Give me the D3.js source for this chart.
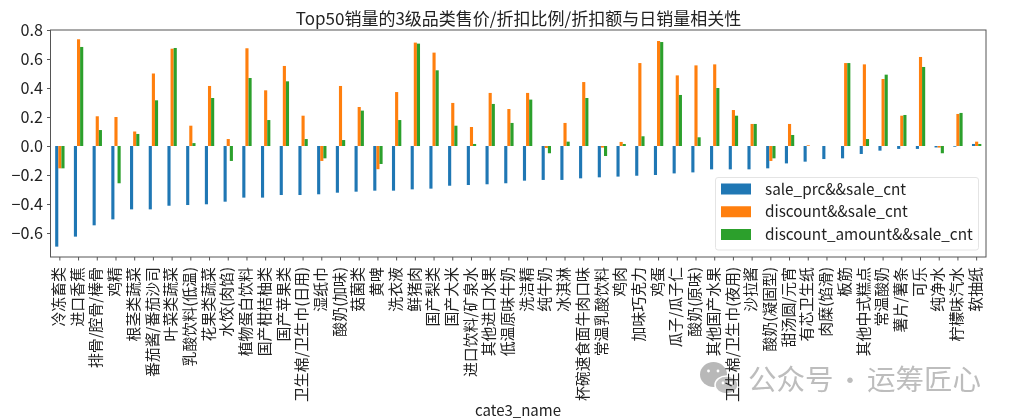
<!DOCTYPE html>
<html>
<head>
<meta charset="utf-8">
<script src="https://cdnjs.cloudflare.com/ajax/libs/d3/7.8.5/d3.min.js"></script>
<style>
html,body{margin:0;padding:0;background:#fff;}
svg{display:block;filter:blur(0.35px);}
text{font-family:"Noto Sans CJK SC","Noto Sans",sans-serif;fill:#222;}
</style>
</head>
<body>
<svg id="chart" width="1013" height="420"></svg>
<script>
const categories = ["冷冻畜类","进口香蕉","排骨/腔骨/棒骨","鸡精","根茎类蔬菜","番茄酱/番茄沙司","叶菜类蔬菜","乳酸饮料(低温)","花果类蔬菜","水饺(肉馅)","植物蛋白饮料","国产柑桔柚类","国产苹果类","卫生棉/卫生巾(日用)","湿纸巾","酸奶(加味)","菇菌类","黄啤","洗衣液","鲜猪肉","国产梨类","国产大米","进口饮料/矿泉水","其他进口水果","低温原味牛奶","洗洁精","纯牛奶","冰淇淋","杯碗速食面牛肉口味","常温乳酸饮料","鸡肉","加味巧克力","鸡蛋","瓜子/瓜子仁","酸奶(原味)","其他国产水果","卫生棉/卫生巾(夜用)","沙拉酱","酸奶(凝固型)","甜汤圆/元宵","有芯卫生纸","肉糜(馅滑)","板筋","其他中式糕点","常温酸奶","薯片/薯条","可乐","纯净水","柠檬味汽水","软抽纸"];
const salePrc = [-0.694,-0.625,-0.547,-0.506,-0.437,-0.437,-0.412,-0.407,-0.402,-0.384,-0.356,-0.356,-0.338,-0.338,-0.333,-0.322,-0.315,-0.308,-0.308,-0.299,-0.294,-0.274,-0.269,-0.264,-0.257,-0.239,-0.234,-0.234,-0.223,-0.216,-0.211,-0.205,-0.2,-0.189,-0.182,-0.161,-0.161,-0.161,-0.154,-0.12,-0.108,-0.09,-0.085,-0.055,-0.032,-0.02,-0.02,-0.01,-0.005,0.014];
const discount = [-0.154,0.736,0.205,0.2,0.1,0.5,0.671,0.14,0.414,0.048,0.674,0.384,0.552,0.209,-0.103,0.414,0.269,-0.16,0.372,0.713,0.644,0.297,0.131,0.366,0.255,0.366,-0.014,0.159,0.441,-0.011,0.028,0.572,0.724,0.487,0.556,0.563,0.248,0.152,-0.103,0.152,0.005,0,0.572,0.563,0.462,0.209,0.614,-0.011,0.221,0.03];
const discountAmount = [-0.154,0.683,0.11,-0.257,0.083,0.315,0.676,0.02,0.331,-0.103,0.469,0.179,0.446,0.048,-0.085,0.041,0.244,-0.124,0.179,0.706,0.522,0.14,0.014,0.29,0.159,0.32,-0.05,0.03,0.331,-0.069,0.014,0.067,0.717,0.352,0.06,0.4,0.209,0.152,-0.085,0.076,0,0,0.572,0.048,0.492,0.214,0.545,-0.05,0.228,0.014];
const seriesNames = ["sale_prc&&sale_cnt","discount&&sale_cnt","discount_amount&&sale_cnt"];
const seriesValues = [salePrc, discount, discountAmount];
const seriesColors = ["#1f77b4","#ff7f0e","#2ca02c"];
const yTicks = [-0.6,-0.4,-0.2,0,0.2,0.4,0.6,0.8];
const titleText = "Top50销量的3级品类售价/折扣比例/折扣额与日销量相关性";
const xLabel = "cate3_name";
const watermarkParts = ["公众号","·","运筹匠心"];

const L=50.5,R=986,T=30,B=257;
const svg=d3.select("#chart");

// watermark sits underneath the chart's labels
const wm=svg.append("g");
wm.append("ellipse").attr("cx",713.5).attr("cy",374.5).attr("rx",13.5).attr("ry",12.5).attr("fill","#b8b8b8");
wm.append("ellipse").attr("cx",726.5).attr("cy",385).attr("rx",11.5).attr("ry",9).attr("fill","#c2c2c2").attr("stroke","#fff").attr("stroke-width",1.5);
[[708.5,371],[718,371],[723,383],[731,383]].forEach(p=>wm.append("circle").attr("cx",p[0]).attr("cy",p[1]).attr("r",1.4).attr("fill","#fff"));
[[748,0],[850,1],[867,2]].forEach(p=>{
  wm.append("text").attr("x",p[0]).attr("y",389.5).attr("font-size",p[1]===1?26:28.5)
    .attr("text-anchor",p[1]===1?"middle":"start").style("fill","#bdbdbd").text(watermarkParts[p[1]]);
});

const x=d3.scaleBand().domain(categories).range([L,R]);
const barW=x.bandwidth()*0.5/3;
const sub=d3.scaleBand().domain(d3.range(3)).range([-1.5*barW,1.5*barW]);
const y=d3.scaleLinear().domain([-0.7655,0.8]).range([B,T]);

seriesValues.forEach((vals,si)=>{
  svg.append("g").selectAll("rect").data(vals).join("rect")
    .attr("x",(d,i)=>x(categories[i])+x.bandwidth()/2+sub(si))
    .attr("width",barW)
    .attr("y",d=>Math.min(y(d),y(0)))
    .attr("height",d=>Math.abs(y(d)-y(0)))
    .attr("fill",seriesColors[si]);
});

const axisColor="#555";
const gy=svg.append("g").attr("transform",`translate(${L},0)`)
  .call(d3.axisLeft(y).tickValues(yTicks).tickSize(3.5).tickPadding(4)
    .tickFormat(d=>d3.format(".1f")(d).replace("-","\u2212")));
gy.select(".domain").remove();
gy.selectAll("line").attr("stroke",axisColor);
gy.selectAll("text").attr("font-size",16.2).style("font-family",'"Noto Sans CJK SC"').attr("fill","#222");

const gx=svg.append("g").attr("transform",`translate(0,${B})`)
  .call(d3.axisBottom(x).tickSize(3.5).tickSizeOuter(0));
gx.select(".domain").remove();
gx.selectAll("line").attr("stroke",axisColor);
gx.selectAll("text")
  .attr("font-size",14.9).style("font-family",'"Noto Sans CJK SC"').attr("fill","#222")
  .attr("transform","rotate(-90)")
  .attr("text-anchor","end")
  .attr("x",-10).attr("y",-1.2).attr("dy","0.36em");

svg.append("rect").attr("x",L).attr("y",T).attr("width",R-L).attr("height",B-T)
  .attr("fill","none").attr("stroke",axisColor).attr("stroke-width",1);

svg.append("text").attr("x",518.5).attr("y",25).attr("text-anchor","middle")
  .attr("font-size",17).text(titleText);
svg.append("text").attr("x",518).attr("y",416).attr("text-anchor","middle")
  .attr("font-size",15).text(xLabel);

const lg=svg.append("g");
lg.append("rect").attr("x",715.5).attr("y",177.5).attr("width",263).attr("height",72.5).attr("rx",2.5)
  .attr("fill","#fff").attr("fill-opacity",0.9).attr("stroke","#e4e4e4");
seriesNames.forEach((n,i)=>{
  const cy=189+i*22.75;
  lg.append("rect").attr("x",721).attr("y",cy-5.5).attr("width",30).attr("height",11).attr("fill",seriesColors[i]);
  lg.append("text").attr("x",765).attr("y",cy+5.5).attr("font-size",15.3).text(n);
});
</script>
</body>
</html>
